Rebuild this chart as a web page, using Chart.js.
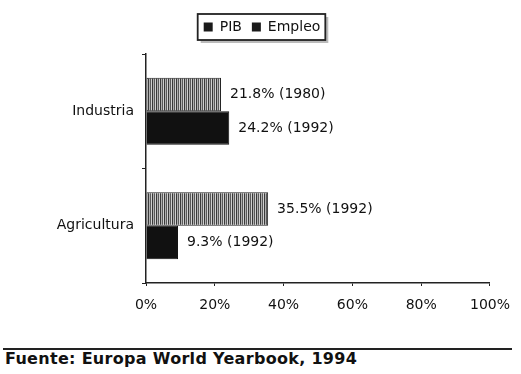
<!DOCTYPE html>
<html>
<head>
<meta charset="utf-8">
<script src="https://cdn.jsdelivr.net/npm/chart.js@4"></script>
<style>
  body { margin: 0; background: #fff; }
  #wrap { position: relative; width: 521px; height: 345px; }
  #fuente {
    position: absolute; left: 3px; top: 348px; width: 507px;
    border-top: 2px solid #222;
    font: bold 16px "DejaVu Sans", sans-serif; color: #111;
    letter-spacing: 0.3px;
    padding-left: 2px; line-height: 18px;
  }
</style>
</head>
<body>
<div id="wrap"><canvas id="myChart"></canvas></div>
<div id="fuente">Fuente: Europa World Yearbook, 1994</div>
<script>
const categorias = ["Industria", "Agricultura"];
const pib = [21.8, 35.5];
const pibAnios = ["1980", "1992"];
const empleo = [24.2, 9.3];
const empleoAnios = ["1992", "1992"];
const ticksX = [0, 20, 40, 60, 80, 100];

// rayado vertical para la barra de PIB
function rayas() {
  const c = document.createElement('canvas');
  c.width = 4; c.height = 1;
  const g = c.getContext('2d');
  const cols = ['#3a3a3a', '#b0b0b0', '#5a5a5a', '#d0d0d0'];
  cols.forEach((col, i) => { g.fillStyle = col; g.fillRect(i, 0, 1, 1); });
  return g.createPattern(c, 'repeat');
}

const font = '"DejaVu Sans", sans-serif';

const etiquetas = {
  id: 'etiquetas',
  afterDatasetsDraw(chart) {
    const ctx = chart.ctx;
    ctx.save();
    ctx.font = '14px ' + font;
    ctx.fillStyle = '#111';
    ctx.textBaseline = 'middle';
    const anios = [pibAnios, empleoAnios];
    chart.data.datasets.forEach((ds, d) => {
      chart.getDatasetMeta(d).data.forEach((bar, i) => {
        ctx.fillText(ds.data[i].toFixed(1) + '% (' + anios[d][i] + ')', bar.x + 9, bar.y);
      });
    });
    ctx.restore();
  }
};

const marcoLeyenda = {
  id: 'marcoLeyenda',
  afterDraw(chart) {
    const boxes = chart.legend.legendHitBoxes;
    if (!boxes || !boxes.length) return;
    const l = Math.min(...boxes.map(b => b.left)) - 6;
    const r = Math.max(...boxes.map(b => b.left + b.width)) + 5;
    const t = boxes[0].top - 6;
    const h = boxes[0].height + 12;
    const ctx = chart.ctx;
    ctx.save();
    ctx.fillStyle = '#bbb';
    ctx.fillRect(l + 3, t + 3, r - l, h);
    ctx.fillStyle = '#fff';
    ctx.fillRect(l, t, r - l, h);
    ctx.strokeStyle = '#222';
    ctx.lineWidth = 1.8;
    ctx.strokeRect(l, t, r - l, h);
    ctx.restore();
    chart.legend.draw();
  }
};

const data = {
  labels: categorias,
  datasets: [{
    label: "PIB",
    data: pib,
    backgroundColor: rayas(),
    borderColor: '#222',
    borderWidth: 1,
    borderSkipped: false
  }, {
    label: "Empleo",
    data: empleo,
    backgroundColor: '#111',
    borderColor: '#111',
    borderWidth: 1
  }]
};

const config = {
  type: 'bar',
  data: data,
  options: {
    indexAxis: 'y',
    responsive: true,
    maintainAspectRatio: false,
    animation: false,
    categoryPercentage: 0.585,
    barPercentage: 1,
    layout: { padding: { top: 10, right: 28, bottom: 0, left: 31 } },
    plugins: {
      // título vacío: solo deja aire entre la leyenda y el gráfico
      title: { display: true, text: '', font: { size: 4, lineHeight: 1 }, padding: { top: 0, bottom: 6 }, weight: 500 },
      legend: {
        display: true,
        weight: 3000,
        labels: {
          font: { size: 14, family: font },
          color: '#111',
          boxWidth: 9,
          boxHeight: 9,
          padding: 10,
          generateLabels(chart) {
            return chart.data.datasets.map((ds, i) => ({
              text: ds.label, fillStyle: '#1a1a1a', strokeStyle: '#1a1a1a',
              lineWidth: 0, datasetIndex: i, fontColor: '#111'
            }));
          }
        }
      },
      tooltip: { enabled: false }
    },
    scales: {
      x: {
        min: 0, max: 100,
        afterBuildTicks(s) { s.ticks = ticksX.map(v => ({ value: v })); },
        afterFit(s) { s.height = 62; },
        grid: { drawOnChartArea: false, tickLength: 3, color: '#222' },
        border: { color: '#222', width: 1.5 },
        ticks: {
          callback: v => v + '%',
          font: { size: 14, family: font },
          color: '#111',
          padding: 11
        }
      },
      y: {
        afterFit(s) { s.width = 115; },
        grid: { drawOnChartArea: false, tickLength: 4, offset: true, color: '#222' },
        border: { color: '#222', width: 1.5 },
        ticks: {
          font: { size: 14, family: font },
          color: '#111',
          padding: 8
        }
      }
    }
  },
  plugins: [etiquetas, marcoLeyenda]
};

const ctx = document.getElementById('myChart').getContext('2d');
const myChart = new Chart(ctx, config);
</script>
</body>
</html>
